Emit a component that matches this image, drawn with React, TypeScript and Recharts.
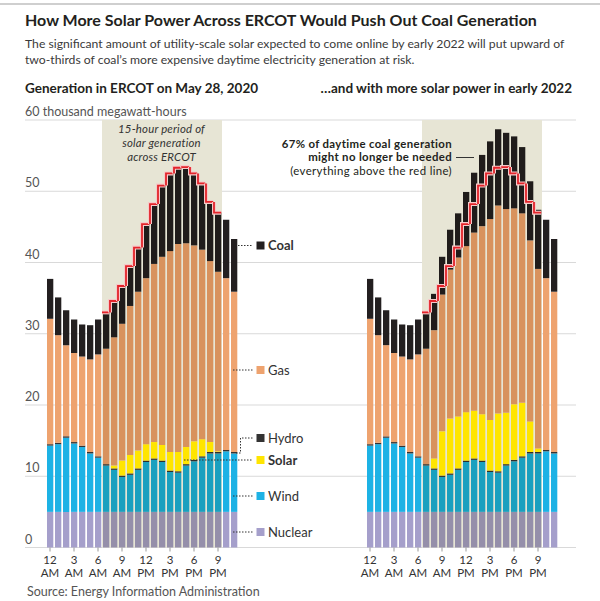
import React from 'react'
import { BarChart, Bar, XAxis, YAxis, CartesianGrid, ReferenceArea, Cell } from 'recharts'

// hourly generation in ERCOT, thousand MWh, 12 AM .. 11 PM
const hours = [0, 1, 2, 3, 4, 5, 6, 7, 8, 9, 10, 11, 12, 13, 14, 15, 16, 17, 18, 19, 20, 21, 22, 23]
const tickHours = [0, 3, 6, 9, 12, 15, 18, 21]
const tickLabels = [['12', 'AM'], ['3', 'AM'], ['6', 'AM'], ['9', 'AM'], ['12', 'PM'], ['3', 'PM'], ['6', 'PM'], ['9', 'PM']]
const yTicks = [0, 10, 20, 30, 40, 50, 60]

const nuclear = [5.0, 5.0, 5.0, 5.0, 5.0, 5.0, 5.0, 5.0, 5.0, 5.0, 5.0, 5.0, 5.0, 5.0, 5.0, 5.0, 5.0, 5.0, 5.0, 5.0, 5.0, 5.0, 5.0, 5.0]
const wind = [9.3, 9.5, 10.4, 9.6, 9.1, 8.2, 7.6, 6.5, 5.9, 4.9, 5.2, 5.9, 7.0, 7.3, 7.0, 5.6, 5.5, 6.5, 7.1, 7.6, 8.2, 8.2, 8.5, 8.2]
const hydro = [0.2, 0.2, 0.2, 0.2, 0.2, 0.2, 0.2, 0.2, 0.2, 0.2, 0.2, 0.2, 0.2, 0.2, 0.2, 0.2, 0.2, 0.2, 0.2, 0.2, 0.2, 0.2, 0.2, 0.2]
const solar2020 = [0, 0, 0, 0, 0, 0, 0, 0, 0.4, 2.1, 2.6, 2.5, 2.3, 2.3, 2.2, 2.6, 2.7, 2.4, 2.6, 2.4, 1.4, 0.1, 0, 0]
const solar2022 = [0, 0, 0, 0, 0, 0, 0, 0, 1.4, 6.2, 7.7, 7.3, 6.8, 6.7, 6.5, 7.1, 8.1, 7.2, 7.8, 7.5, 4.3, 0.5, 0, 0]
const gas = [17.6, 15.1, 12.8, 12.5, 12.5, 13.0, 14.3, 16.2, 18.0, 19.2, 20.9, 22.3, 23.3, 25.0, 26.4, 28.2, 29.2, 28.6, 27.5, 26.6, 25.4, 25.2, 24.1, 22.5]
const coal = [5.6, 5.3, 4.9, 4.7, 4.5, 4.8, 4.9, 5.1, 5.1, 5.3, 5.6, 6.2, 7.6, 8.4, 10.0, 10.9, 10.7, 10.7, 10.1, 9.3, 8.3, 8.3, 8.2, 7.4]

// 15-hour period of solar generation: 7 AM through 9 PM
const solarStart = 7
const solarEnd = 21
const gapSlots = 16

const SHADE = '#e7e5d5'
const series = [
  { key: 'nuclear', color: '#a59fcb', shade: true },
  { key: 'wind', color: '#1db2e5', shade: true },
  { key: 'hydro', color: '#333333', shade: true },
  { key: 'solar', color: '#ffe500', shade: false },
  { key: 'gas', color: '#eea36f', shade: true },
  { key: 'coal', color: '#231f20', shade: true },
]

function multiply(a: string, b: string) {
  const ch = (s: string, i: number) => parseInt(s.slice(1 + i * 2, 3 + i * 2), 16)
  let out = '#'
  for (let i = 0; i < 3; i++) out += Math.round((ch(a, i) * ch(b, i)) / 255).toString(16).padStart(2, '0')
  return out
}

const inWindow = (h: number) => h >= solarStart && h <= solarEnd
const total2020 = (h: number) => nuclear[h] + wind[h] + hydro[h] + solar2020[h] + gas[h] + coal[h]

function panel(prefix: string, solar: number[]) {
  return hours.map((h) => ({
    key: prefix + h,
    hour: h,
    nuclear: nuclear[h],
    wind: wind[h],
    hydro: hydro[h],
    solar: solar[h],
    gas: gas[h],
    coal: coal[h],
    red: inWindow(h) ? total2020(h) : undefined,
    redPrev: inWindow(h - 1) ? total2020(h - 1) : undefined,
  }))
}

const rows: any[] = [
  ...panel('L', solar2020),
  ...Array.from({ length: gapSlots }, (_, i) => ({ key: 'gap' + i })),
  ...panel('R', solar2022),
]
const rowByKey: Record<string, any> = {}
rows.forEach((r) => (rowByKey[r.key] = r))

const FONT = 'Lato, "Open Sans", sans-serif'
const PAD = { left: 21, right: 18 }

function HourTick(props: any) {
  const { x, y, payload } = props
  const row = rowByKey[payload.value]
  if (!row || row.hour === undefined || !tickHours.includes(row.hour)) return <g />
  const [a, b] = tickLabels[tickHours.indexOf(row.hour)]
  return (
    <g>
      <line x1={x} x2={x} y1={y} y2={y + 4} stroke="#999" />
      <text x={x} y={y + 16} textAnchor="middle" fontFamily={FONT} fontSize={11.5} fill="#333">{a}</text>
      <text x={x} y={y + 29.5} textAnchor="middle" fontFamily={FONT} fontSize={11.5} fill="#333">{b}</text>
    </g>
  )
}

function ValueTick(props: any) {
  const { y, payload } = props
  const label = payload.value === 60 ? '60 thousand megawatt-hours' : String(payload.value)
  return (
    <text x={25} y={y - 4} textAnchor="start" fontFamily={FONT} fontSize={12.5} fill="#555">{label}</text>
  )
}

function RedStep(props: any) {
  const { x, y, width, height, payload } = props
  if (!payload || payload.red == null || !height) return <g />
  const ppu = height / payload.red
  let d = `M${x},${y}H${x + width}`
  if (payload.redPrev != null) {
    const py = y + height - payload.redPrev * ppu
    d = `M${x},${py}V${y}H${x + width}`
  }
  return (
    <g>
      <path d={d} stroke="#f6c9c9" strokeWidth={4} fill="none" />
      <path d={d} stroke="#e3242b" strokeWidth={1.8} fill="none" />
    </g>
  )
}

const legend = [
  { label: 'Coal', color: '#231f20', y: 245.5, bold: true, lead: [[238, 245.5], [253, 245.5]] },
  { label: 'Gas', color: '#eea36f', y: 370, bold: false, lead: [[233, 370], [253, 370]] },
  { label: 'Hydro', color: '#333333', y: 438, bold: false, lead: [[236, 453], [240.5, 453], [240.5, 438], [253, 438]] },
  { label: 'Solar', color: '#ffe500', y: 460, bold: true, lead: [[184, 460], [253, 460]] },
  { label: 'Wind', color: '#1db2e5', y: 496, bold: false, lead: [[233, 496], [253, 496]] },
  { label: 'Nuclear', color: '#a59fcb', y: 532, bold: false, lead: [[233, 532], [253, 532]] },
]

export default function App() {
  return (
    <div style={{ position: 'absolute', left: 0, top: 0, width: 600, height: 601, background: '#fff', fontFamily: FONT }}>
      <BarChart width={600} height={601} data={rows} margin={{ top: 120, right: 24, bottom: 23.5, left: 24 }}>
        <CartesianGrid horizontal vertical={false} stroke="#d9d9d9" />
        <XAxis dataKey="key" height={30} padding={PAD} interval={0} axisLine={false} tickLine={false} tickSize={0} tickMargin={0} tick={<HourTick />} />
        <XAxis xAxisId="red" dataKey="key" hide padding={PAD} />
        <YAxis domain={[0, 60]} ticks={yTicks} width={1} axisLine={false} tickLine={false} tickSize={0} tickMargin={0} tick={<ValueTick />} />
        <ReferenceArea x1={'L' + solarStart} x2={'L' + solarEnd} y1={0} y2={60} fill={SHADE} fillOpacity={1} stroke="none" />
        <ReferenceArea x1={'R' + solarStart} x2={'R' + solarEnd} y1={0} y2={60} fill={SHADE} fillOpacity={1} stroke="none" />
        {series.map((s) => (
          <Bar key={s.key} dataKey={s.key} stackId="gen" barSize={6.3} fill={s.color} isAnimationActive={false}>
            {rows.map((r) => (
              <Cell key={r.key} fill={s.shade && r.hour !== undefined && inWindow(r.hour) ? multiply(s.color, SHADE) : s.color} />
            ))}
          </Bar>
        ))}
        <Bar dataKey="red" xAxisId="red" barSize={8} shape={<RedStep />} isAnimationActive={false} />
      </BarChart>

      <svg width={600} height={601} style={{ position: 'absolute', left: 0, top: 0, pointerEvents: 'none' }} fontFamily={FONT}>
        <line x1={0} x2={600} y1={4} y2={4} stroke="#cfcfcf" strokeWidth={2} />
        <text x={25} y={26} fontSize={16} fontWeight={700} fill="#231f20">How More Solar Power Across ERCOT Would Push Out Coal Generation</text>
        <text x={25} y={47.5} fontSize={12.2} fill="#3a3a3a">The significant amount of utility-scale solar expected to come online by early 2022 will put upward of</text>
        <text x={25} y={64} fontSize={12.2} fill="#3a3a3a">two-thirds of coal’s more expensive daytime electricity generation at risk.</text>
        <text x={25} y={93} fontSize={13.5} fontWeight={700} fill="#231f20">Generation in ERCOT on May 28, 2020</text>
        <text x={572} y={93} fontSize={13.5} fontWeight={700} fill="#231f20" textAnchor="end">…and with more solar power in early 2022</text>

        <g fontSize={11.4} fontStyle="italic" fill="#333" textAnchor="middle" letterSpacing={0.2}>
          <text x={161.5} y={133}>15-hour period of</text>
          <text x={161.5} y={146.8}>solar generation</text>
          <text x={161.5} y={160.6}>across ERCOT</text>
        </g>

        <g fontSize={11.4} fill="#231f20" textAnchor="end" letterSpacing={0.35}>
          <text x={452} y={147.5} fontWeight={700}>67% of daytime coal generation</text>
          <text x={452} y={161.3} fontWeight={700}>might no longer be needed</text>
          <text x={452} y={175.1}>(everything above the red line)</text>
        </g>
        <line x1={456} x2={474} y1={157.5} y2={157.5} stroke="#333" />

        {legend.map((l) => (
          <g key={l.label}>
            <polyline points={l.lead.map((p) => p.join(',')).join(' ')} fill="none" stroke="#333" strokeDasharray="1.5 1.5" />
            <rect x={256.5} y={l.y - 4} width={8} height={8} fill={l.color} />
            <text x={268} y={l.y + 4.5} fontSize={13} fontWeight={l.bold ? 700 : 400} fill="#333">{l.label}</text>
          </g>
        ))}

        <text x={27} y={596} fontSize={12.5} fill="#555">Source:  Energy Information Administration</text>
      </svg>
    </div>
  )
}
